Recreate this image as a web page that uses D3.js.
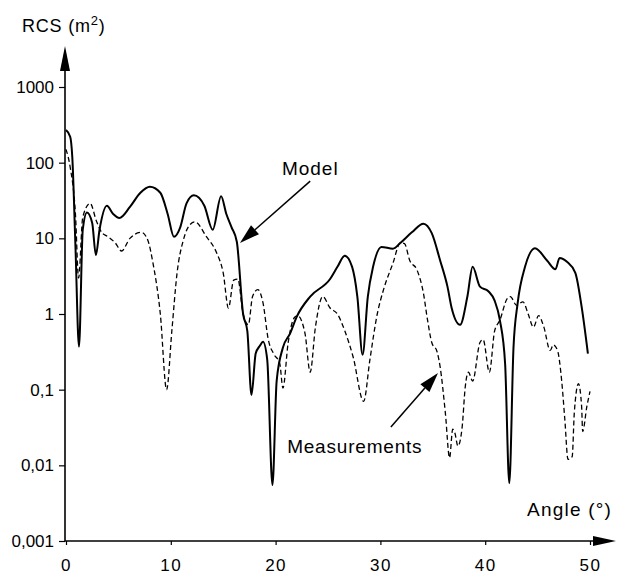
<!DOCTYPE html>
<html>
<head>
<meta charset="utf-8">
<script src="https://cdn.jsdelivr.net/npm/d3@7"></script>
<style>
  html, body { margin: 0; padding: 0; background: #fff; }
  svg text { font-family: "Liberation Sans", Arial, Helvetica, sans-serif; fill: #000; }
</style>
</head>
<body>
<svg id="chart" width="618" height="574"></svg>
<script>
// ---- data ----
const angleTicks = [0, 10, 20, 30, 40, 50];
const rcsTicks = [1000, 100, 10, 1, 0.1, 0.01, 0.001];
const rcsTickLabels = ["1000", "100", "10", "1", "0,1", "0,01", "0,001"];

const modelAngle = [0, 0.4, 0.6, 0.9, 1.24, 1.6, 2.0, 2.5, 2.85, 3.2, 3.9, 4.5, 5.1, 6.1, 7.1, 8.0, 9.0, 9.7, 10.3, 10.9, 11.5, 12.2, 13.2, 14.0, 14.8, 15.3, 15.8, 16.3, 16.9, 17.3, 17.7, 18.1, 18.5, 18.8, 19.2, 19.7, 20.1, 20.7, 21.4, 22.0, 23.3, 25.2, 25.9, 26.6, 27.3, 27.8, 28.3, 28.8, 29.3, 30.1, 31.2, 31.9, 33.0, 34.1, 34.9, 35.7, 36.4, 36.8, 37.6, 38.3, 38.8, 39.5, 40.3, 40.9, 41.4, 41.9, 42.3, 42.7, 43.1, 43.8, 44.75, 45.9, 46.7, 47.1, 47.8, 48.6, 49.2, 49.8];
const modelRcs = [270, 220, 119, 8, 0.37, 13, 22, 16, 6, 13, 27, 21, 18.6, 26, 40, 48, 40, 21, 10.5, 14, 29, 37, 27, 13, 36, 21, 14, 9, 1.0, 0.6, 0.085, 0.3, 0.38, 0.43, 0.25, 0.0055, 0.13, 0.36, 0.56, 0.91, 1.7, 2.9, 4.2, 5.9, 4.2, 1.7, 0.29, 1.7, 4.2, 7.7, 7.3, 8.7, 12, 15.6, 11.7, 5.1, 2.3, 1.2, 0.72, 1.7, 4.2, 2.3, 2.0, 1.5, 0.83, 0.22, 0.0058, 0.36, 1.4, 4.2, 7.4, 5.1, 3.9, 5.5, 4.9, 3.5, 1.25, 0.30];

const measAngle = [0, 0.4, 0.9, 1.2, 1.6, 2.3, 2.9, 3.4, 4.0, 4.7, 5.3, 6.1, 7.2, 7.8, 8.3, 9.0, 9.6, 10.1, 10.6, 11.2, 11.8, 12.3, 13.4, 14.4, 15.0, 15.5, 16.0, 16.4, 16.9, 17.4, 17.8, 18.3, 18.8, 19.3, 19.8, 20.4, 20.7, 21.2, 21.8, 22.1, 22.8, 23.3, 23.8, 24.5, 25.2, 25.9, 26.6, 27.4, 28.4, 29.0, 29.7, 30.3, 31.2, 31.9, 32.3, 32.8, 33.5, 34.1, 34.5, 34.9, 35.4, 35.7, 36.2, 36.6, 36.9, 37.1, 37.4, 37.8, 38.1, 38.4, 38.8, 39.5, 39.8, 40.4, 40.9, 41.4, 42.1, 42.4, 43.0, 43.6, 44.1, 44.6, 45.1, 45.6, 46.2, 46.5, 46.9, 47.3, 47.6, 47.9, 48.3, 48.5, 48.9, 49.2, 49.3, 49.7, 50.0];
const measRcs = [150, 87, 21, 3, 19, 29, 17, 12, 10.5, 8.7, 6.8, 10, 12, 9.5, 4.7, 1.0, 0.1, 0.6, 3.5, 9.5, 15, 16.5, 10.5, 6.3, 3.5, 1.2, 2.8, 2.9, 1.0, 0.72, 1.7, 2.1, 1.4, 0.46, 0.3, 0.22, 0.105, 0.42, 0.9, 0.95, 0.56, 0.17, 0.67, 1.7, 1.2, 1.0, 0.6, 0.27, 0.07, 0.25, 1.0, 2.1, 4.7, 8.7, 8.5, 5.1, 3.8, 1.9, 0.83, 0.42, 0.32, 0.2, 0.049, 0.0126, 0.03, 0.027, 0.018, 0.032, 0.11, 0.17, 0.13, 0.42, 0.46, 0.17, 0.6, 0.83, 1.6, 1.7, 1.3, 1.45, 1.0, 0.67, 0.95, 0.67, 0.33, 0.39, 0.33, 0.13, 0.04, 0.012, 0.013, 0.049, 0.12, 0.06, 0.028, 0.06, 0.095];

// ---- layout ----
const svg = d3.select("#chart");
const x = d3.scaleLinear().domain([0, 50]).range([66, 590]);
const y = d3.scaleLog().domain([0.001, 1000]).range([541, 87]);
const FS = 17;
const FONT = "'Liberation Sans', Arial, sans-serif";

// axes
const xAxis = d3.axisBottom(x).tickValues(angleTicks).tickSize(4).tickFormat(d3.format("d"));
const gx = svg.append("g").attr("transform", `translate(0,${y(0.001)})`).call(xAxis);
gx.select(".domain").remove();
gx.selectAll("text").attr("font-size", FS).attr("y", 14).attr("dy", "0.95em")
  .attr("letter-spacing", 1.5).style("font-family", FONT);
gx.selectAll("line").attr("stroke", "#000").attr("stroke-width", 1.2);

const yAxis = d3.axisLeft(y).tickValues(rcsTicks).tickSize(6)
  .tickFormat((d, i) => rcsTickLabels[i]);
const gy = svg.append("g").attr("transform", `translate(${x(0) - 1},0)`).call(yAxis);
gy.select(".domain").remove();
gy.selectAll("text").attr("font-size", FS).attr("x", -11).style("font-family", FONT);
gy.selectAll("line").attr("stroke", "#000").attr("stroke-width", 1.2);

// axis lines with arrowheads
const x0 = x(0) - 1, yb = y(0.001);
svg.append("line").attr("x1", x0).attr("y1", yb).attr("x2", x0).attr("y2", 60)
  .attr("stroke", "#000").attr("stroke-width", 1.6);
svg.append("path").attr("d", `M${x0},46 L${x0 - 5},71 L${x0 + 5},71 Z`).attr("fill", "#000");
svg.append("line").attr("x1", x0).attr("y1", yb).attr("x2", 600).attr("y2", yb)
  .attr("stroke", "#000").attr("stroke-width", 1.6);
svg.append("path").attr("d", `M616,${yb} L593,${yb - 5} L593,${yb + 5} Z`).attr("fill", "#000");

// axis titles
const ttl = svg.append("text").attr("x", 22).attr("y", 32).attr("font-size", 18).attr("letter-spacing", 0.8);
ttl.append("tspan").text("RCS (m");
ttl.append("tspan").attr("font-size", 13).attr("dy", -7).text("2");
ttl.append("tspan").attr("dy", 7).text(")");
svg.append("text").attr("x", 612).attr("y", 516).attr("text-anchor", "end")
  .attr("font-size", 19).attr("letter-spacing", 1.2).text("Angle (°)");

// series
const modelData = modelAngle.map((a, i) => [a, modelRcs[i]]);
const measData = measAngle.map((a, i) => [a, measRcs[i]]);
const line = d3.line().x(d => x(d[0])).y(d => y(d[1])).curve(d3.curveMonotoneX);

svg.append("path").datum(measData).attr("d", line)
  .attr("fill", "none").attr("stroke", "#000").attr("stroke-width", 1.3)
  .attr("stroke-dasharray", "5,3");
svg.append("path").datum(modelData).attr("d", line)
  .attr("fill", "none").attr("stroke", "#000").attr("stroke-width", 2);

// annotations (positioned in data coordinates)
function arrow(a0, v0, a1, v1) {
  const X0 = x(a0), Y0 = y(v0), X1 = x(a1), Y1 = y(v1);
  const ang = Math.atan2(Y1 - Y0, X1 - X0);
  const L = 20, W = 6;
  const bx = X1 - L * Math.cos(ang), by = Y1 - L * Math.sin(ang);
  svg.append("line").attr("x1", X0).attr("y1", Y0).attr("x2", bx).attr("y2", by)
    .attr("stroke", "#000").attr("stroke-width", 1.5);
  const px = -Math.sin(ang) * W, py = Math.cos(ang) * W;
  svg.append("path").attr("d", `M${X1},${Y1} L${bx + px},${by + py} L${bx - px},${by - py} Z`).attr("fill", "#000");
}
svg.append("text").attr("x", x(20.6)).attr("y", y(68)).attr("font-size", 19)
  .attr("letter-spacing", 1).text("Model");
arrow(23.3, 57, 16.6, 8.7);
svg.append("text").attr("x", x(21.1)).attr("y", y(0.0146)).attr("font-size", 19)
  .attr("letter-spacing", 0.8).text("Measurements");
arrow(31.0, 0.032, 35.5, 0.166);
</script>
</body>
</html>
